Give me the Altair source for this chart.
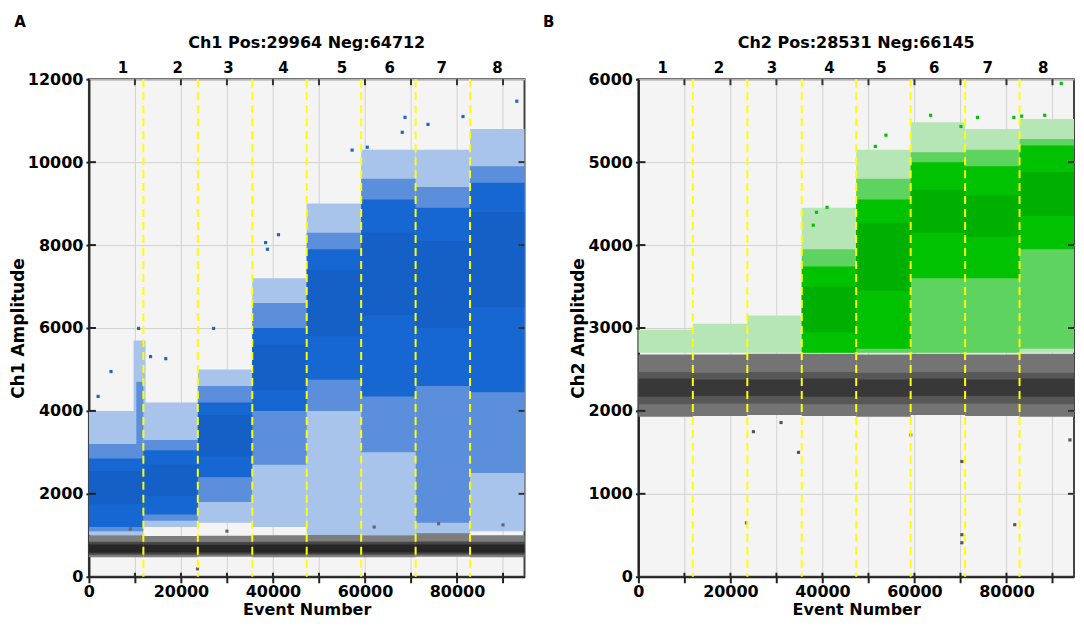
import altair as alt
import pandas as pd

# ---------------- data ----------------
well_names = ["1", "2", "3", "4", "5", "6", "7", "8"]
well_edges = [0, 11834, 23669, 35503, 47338, 59172, 71007, 82841, 94676]
ch1_label_x = [7400, 19300, 30300, 42300, 55000, 65400, 76700, 88800]
ch2_label_x = [5300, 17500, 29000, 41500, 52800, 64300, 75900, 88000]
x_tick_values = [0, 10000, 20000, 30000, 40000, 50000, 60000, 70000, 80000, 90000]
ch1_y_ticks = [0, 2000, 4000, 6000, 8000, 10000, 12000]
ch2_y_ticks = [0, 1000, 2000, 3000, 4000, 5000, 6000]

# Ch1 positive droplets: amplitude ranges per well for each density level
ch1_sparse_lo = [1000, 1200, 1300, 1200, 1000, 1000, 1000, 1100]
ch1_sparse_hi = [4000, 4200, 5000, 7200, 9000, 10300, 10300, 10800]
ch1_mid_lo = [1100, 1350, 1800, 2700, 4000, 3000, 1300, 2500]
ch1_mid_hi = [3200, 3300, 4600, 6600, 8300, 9600, 9400, 9900]
ch1_dense_lo = [1200, 1500, 2400, 4000, 4750, 4350, 4600, 4450]
ch1_dense_hi = [2850, 3050, 4200, 6000, 7900, 9100, 8900, 9500]
ch1_core_lo = [1750, 1950, 2900, 4500, 5800, 6300, 6000, 6500]
ch1_core_hi = [2550, 2700, 3900, 5600, 7400, 8300, 8100, 8800]
# spike of positives at the end of well 1
ch1_spike_x0 = [9700, 10300]
ch1_spike_x1 = [12300, 11834]
ch1_spike_lo = [2850, 2850]
ch1_spike_hi = [5700, 4700]
ch1_spike_level = ["sparse", "mid"]
# Ch1 negative droplets
ch1_neg_fringe_lo = [470, 470, 480, 470, 470, 470, 480, 470]
ch1_neg_fringe_hi = [1000, 980, 990, 1000, 1010, 1000, 1050, 1000]
ch1_neg_mid_lo = [530, 530, 535, 530, 530, 530, 535, 530]
ch1_neg_mid_hi = [845, 840, 840, 845, 850, 845, 850, 845]
ch1_neg_core_lo = [580, 585, 585, 580, 580, 585, 585, 580]
ch1_neg_core_hi = [775, 770, 770, 775, 780, 775, 780, 775]
# isolated Ch1 droplets
ch1_out_x = [93000, 81300, 68700, 73700, 68100, 57200, 60500, 4800, 10800, 13400, 16700, 27100, 38400, 41200, 2000, 38800]
ch1_out_y = [11470, 11100, 11080, 10910, 10720, 10290, 10360, 4950, 5990, 5310, 5260, 5990, 8060, 8250, 4350, 7900]
ch1_neg_out_x = [23600, 9000, 30000, 62000, 76000, 90000]
ch1_neg_out_y = [190, 1150, 1100, 1200, 1280, 1250]

# Ch2 positive droplets
ch2_sparse_lo = [2700, 2700, 2700, 2700, 2700, 2700, 2700, 2700]
ch2_sparse_hi = [2980, 3050, 3150, 4450, 5150, 5480, 5400, 5520]
ch2_mid_lo = [None, None, None, 2700, 2700, 2700, 2700, 2750]
ch2_mid_hi = [None, None, None, 3950, 4800, 5120, 5150, 5280]
ch2_dense_lo = [None, None, None, 2700, 2750, 3600, 3600, 3950]
ch2_dense_hi = [None, None, None, 3740, 4550, 5000, 4950, 5200]
ch2_core_lo = [None, None, None, 2950, 3450, 4150, 4100, 4350]
ch2_core_hi = [None, None, None, 3500, 4270, 4670, 4600, 4880]
# Ch2 negative droplets
ch2_neg_fringe_lo = [1930, 1940, 1950, 1940, 1930, 1950, 1940, 1930]
ch2_neg_fringe_hi = [2680, 2680, 2690, 2690, 2680, 2690, 2680, 2690]
ch2_neg_mid_lo = [2080, 2090, 2090, 2080, 2080, 2090, 2090, 2080]
ch2_neg_mid_hi = [2470, 2460, 2470, 2470, 2460, 2470, 2470, 2460]
ch2_neg_core_lo = [2170, 2180, 2180, 2170, 2170, 2180, 2180, 2170]
ch2_neg_core_hi = [2390, 2380, 2380, 2390, 2380, 2390, 2380, 2390]
# isolated Ch2 droplets
ch2_out_x = [91900, 63500, 53800, 73700, 81600, 83300, 88300, 51500, 70100, 38700, 41000, 38000]
ch2_out_y = [5950, 5565, 5325, 5540, 5540, 5555, 5565, 5190, 5430, 4395, 4455, 4240]
ch2_neg_out_x = [25000, 31000, 34800, 23500, 70300, 70300, 70300, 81800, 93800, 59200]
ch2_neg_out_y = [1750, 1860, 1500, 650, 1390, 507, 410, 628, 1650, 1710]

# ---------------- styling ----------------
FONT = "DejaVu Sans"
N_EVENTS = 94676
W1, W2, H = 436, 436, 498

BLUE = {"sparse": "#a9c4ea", "mid": "#5b8fdc", "dense": "#1767d2", "core": "#1460c6"}
GREEN = {"sparse": "#b6e6b6", "mid": "#5fd35f", "dense": "#00c200", "core": "#00b000"}
GRAY1 = {"fringe": "#7d7d7d", "mid": "#474747", "core": "#262626"}
GRAY2 = {"fringe": "#747474", "mid": "#575757", "core": "#383838"}


def band_df(lo, hi):
    rows = []
    for i, (a, b) in enumerate(zip(lo, hi)):
        if a is None:
            continue
        rows.append({"x0": well_edges[i], "x1": well_edges[i + 1], "lo": a, "hi": b})
    return pd.DataFrame(rows)


def panel(title, ymax, yticks, ytitle, label_x, width, pos_bands, pos_colors,
          neg_bands, neg_colors, extra_bands, out_xy, out_color, neg_out_xy, neg_color):
    xs = alt.Scale(domain=[0, N_EVENTS], nice=False, zero=False)
    ys = alt.Scale(domain=[0, ymax], nice=False)
    x_axis = alt.Axis(values=x_tick_values, format="d", title="Event Number",
                      labelExpr="datum.value % 20000 === 0 ? datum.label : ''")
    y_axis = alt.Axis(values=yticks, format="d", title=ytitle)

    def X(field):
        return alt.X(field, scale=xs, axis=x_axis)

    def Y(field):
        return alt.Y(field, scale=ys, axis=y_axis)

    layers = []
    for level in ["sparse", "mid", "dense", "core"]:
        lo, hi = pos_bands[level]
        df = band_df(lo, hi)
        if level in extra_bands:
            df = pd.concat([df, extra_bands[level]], ignore_index=True)
        layers.append(
            alt.Chart(df).mark_rect(color=pos_colors[level], strokeWidth=0).encode(
                x=X("x0:Q"), x2="x1:Q", y=Y("lo:Q"), y2="hi:Q",
            )
        )
    for level in ["fringe", "mid", "core"]:
        lo, hi = neg_bands[level]
        layers.append(
            alt.Chart(band_df(lo, hi)).mark_rect(color=neg_colors[level], strokeWidth=0).encode(
                x=X("x0:Q"), x2="x1:Q", y=Y("lo:Q"), y2="hi:Q",
            )
        )
    layers.append(
        alt.Chart(pd.DataFrame({"x0": out_xy[0], "lo": out_xy[1]}))
        .mark_square(size=10, color=out_color, opacity=1)
        .encode(x=X("x0:Q"), y=Y("lo:Q"))
    )
    layers.append(
        alt.Chart(pd.DataFrame({"x0": neg_out_xy[0], "lo": neg_out_xy[1]}))
        .mark_square(size=10, color=neg_color, opacity=1)
        .encode(x=X("x0:Q"), y=Y("lo:Q"))
    )
    # well boundaries
    layers.append(
        alt.Chart(pd.DataFrame({"x0": well_edges[1:-1]}))
        .mark_rule(color="#ffff00", strokeWidth=2, strokeDash=[8, 5])
        .encode(x=X("x0:Q"))
    )
    # inward ticks (top, bottom, left, right)
    xt = pd.DataFrame({"x0": x_tick_values[1:]})
    yt = pd.DataFrame({"lo": yticks[1:-1]})
    layers.append(
        alt.Chart(xt).mark_rule(color="#333333", strokeWidth=2)
        .encode(x=X("x0:Q"), y=alt.value(0), y2=alt.value(6))
    )
    layers.append(
        alt.Chart(xt).mark_rule(color="#222222", strokeWidth=2)
        .encode(x=X("x0:Q"), y=alt.value(H - 4), y2=alt.value(H))
    )
    layers.append(
        alt.Chart(yt).mark_rule(color="#333333", strokeWidth=2)
        .encode(y=Y("lo:Q"), x=alt.value(width - 6), x2=alt.value(width))
    )
    layers.append(
        alt.Chart(yt).mark_rule(color="#222222", strokeWidth=2)
        .encode(y=Y("lo:Q"), x=alt.value(0), x2=alt.value(7))
    )
    # well numbers on top
    layers.append(
        alt.Chart(pd.DataFrame({"x0": label_x, "label": well_names}))
        .mark_text(font=FONT, fontSize=15, fontWeight="bold", baseline="alphabetic", color="black")
        .encode(x=X("x0:Q"), y=alt.value(-6), text="label:N")
    )
    return alt.layer(*layers).properties(
        width=width, height=H,
        title=alt.TitleParams(title, fontSize=16, frame="group", anchor="middle", offset=10),
    )


ch1_extra = {}
for x0, x1, lo, hi, lev in zip(ch1_spike_x0, ch1_spike_x1, ch1_spike_lo, ch1_spike_hi, ch1_spike_level):
    ch1_extra.setdefault(lev, []).append({"x0": x0, "x1": x1, "lo": lo, "hi": hi})
ch1_extra = {k: pd.DataFrame(v) for k, v in ch1_extra.items()}

pA = panel(
    "Ch1 Pos:29964 Neg:64712", 12000, ch1_y_ticks, "Ch1 Amplitude", ch1_label_x, W1,
    {"sparse": (ch1_sparse_lo, ch1_sparse_hi), "mid": (ch1_mid_lo, ch1_mid_hi),
     "dense": (ch1_dense_lo, ch1_dense_hi), "core": (ch1_core_lo, ch1_core_hi)},
    BLUE,
    {"fringe": (ch1_neg_fringe_lo, ch1_neg_fringe_hi), "mid": (ch1_neg_mid_lo, ch1_neg_mid_hi),
     "core": (ch1_neg_core_lo, ch1_neg_core_hi)},
    GRAY1, ch1_extra, (ch1_out_x, ch1_out_y), "#1767d2", (ch1_neg_out_x, ch1_neg_out_y), "#666666",
)
pB = panel(
    "Ch2 Pos:28531 Neg:66145", 6000, ch2_y_ticks, "Ch2 Amplitude", ch2_label_x, W2,
    {"sparse": (ch2_sparse_lo, ch2_sparse_hi), "mid": (ch2_mid_lo, ch2_mid_hi),
     "dense": (ch2_dense_lo, ch2_dense_hi), "core": (ch2_core_lo, ch2_core_hi)},
    GREEN,
    {"fringe": (ch2_neg_fringe_lo, ch2_neg_fringe_hi), "mid": (ch2_neg_mid_lo, ch2_neg_mid_hi),
     "core": (ch2_neg_core_lo, ch2_neg_core_hi)},
    GRAY2, {}, (ch2_out_x, ch2_out_y), "#00c200", (ch2_neg_out_x, ch2_neg_out_y), "#555555",
)

panelA = alt.vconcat(pA, title=alt.TitleParams("A", anchor="start", frame="bounds", fontSize=15, offset=4, dx=6))
panelB = alt.vconcat(pB, title=alt.TitleParams("B", anchor="start", frame="bounds", fontSize=15, offset=4, dx=-26))

chart = (
    alt.hconcat(panelA, panelB, spacing=16)
    .properties(padding={"left": 0, "top": 7, "right": 0, "bottom": 0})
    .configure_view(fill="#f4f4f4", stroke="#444444", strokeWidth=2)
    .configure_axis(
        labelFont=FONT, labelFontSize=16, labelFontWeight="bold", labelColor="black",
        titleFont=FONT, titleFontWeight="bold", titleColor="black",
        tickColor="#222222", tickWidth=2, domainColor="#222222", domainWidth=2,
        gridColor="#d2d2d2", gridWidth=1,
        labelFlush=False, labelOverlap=False,
    )
    .configure_axisX(tickSize=6, labelPadding=1, titlePadding=2, titleFontSize=16)
    .configure_axisY(tickSize=3, labelPadding=3, titlePadding=0, titleFontSize=17)
    .configure_title(font=FONT, fontWeight="bold", color="black")
)

chart.save("out.html", embed_options={"renderer": "svg", "actions": False})
